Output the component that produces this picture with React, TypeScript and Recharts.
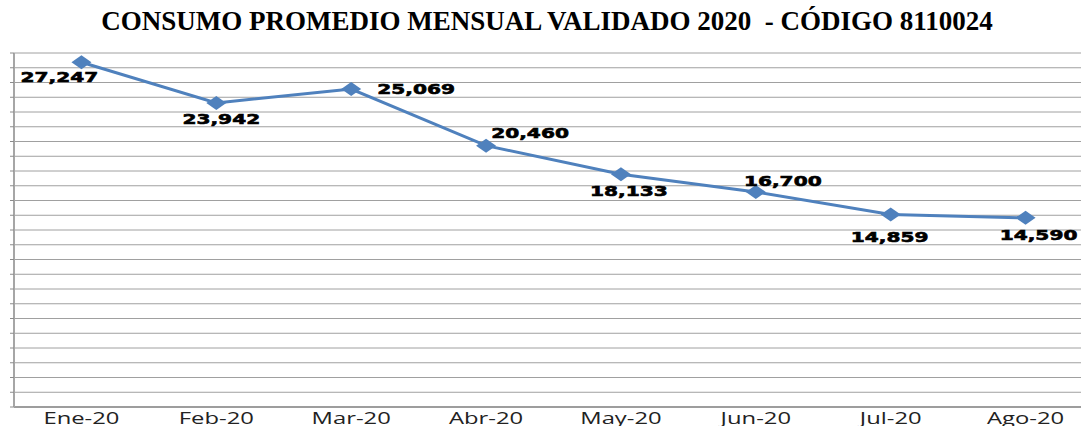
import { LineChart, Line, XAxis, YAxis, CartesianGrid, LabelList } from "recharts";

const months = ["Ene-20", "Feb-20", "Mar-20", "Abr-20", "May-20", "Jun-20", "Jul-20", "Ago-20"];
const consumo = [27247, 23942, 25069, 20460, 18133, 16700, 14859, 14590];
const yTicks = [-800, 0, 400, 1600, 2800, 4000, 5200, 6400, 7600, 8800, 10000, 11200, 12400, 13600, 14800, 16000, 17200, 18400, 19600, 20800, 22000, 23200, 24400, 25600, 26800, 28000];

// where each value label sits relative to its point (dx, dy to baseline)
const labelOffsets = [[-22, 20], [5, 21], [65, 5], [44, -8], [8, 22], [27, -6], [-1, 27], [13, 22]];

const data = months.map((m, i) => ({ mes: m, valor: consumo[i] }));

const BLUE = "#4f81bd";

function Diamond({ cx, cy }: any) {
  if (cx == null || cy == null) return null;
  return <polygon points={`${cx - 10},${cy} ${cx},${cy - 7} ${cx + 10},${cy} ${cx},${cy + 7}`} fill={BLUE} />;
}

function MonthTick({ x, y, payload }: any) {
  return (
    <g transform={`translate(${x},${y})`}>
      <text transform="scale(1.4,1)" textAnchor="middle" dy={17} fontSize={17} fontFamily="'Open Sans', sans-serif" fill="#222">
        {payload.value}
      </text>
    </g>
  );
}

function ValueLabel({ x, y, value, index }: any) {
  const [dx, dy] = labelOffsets[index] || [0, 0];
  return (
    <g transform={`translate(${x + dx},${y + dy})`}>
      <text
        transform="scale(1.44,1)"
        textAnchor="middle"
        fontSize={14}
        fontWeight="bold"
        fontFamily="'DejaVu Sans', sans-serif"
        fill="#000"
        stroke="#000"
        strokeWidth={0.6}
      >
        {Number(value).toLocaleString("en-US")}
      </text>
    </g>
  );
}

export default function App() {
  return (
    <div style={{ position: "absolute", left: 0, top: 0, width: 1081, height: 426, overflow: "hidden", background: "#fff" }}>
      <div
        style={{
          position: "absolute",
          top: 6,
          left: 0,
          width: 1094,
          textAlign: "center",
          fontFamily: "'Liberation Serif', serif",
          fontWeight: "bold",
          fontSize: 27,
          color: "#000",
          whiteSpace: "pre",
        }}
      >
        CONSUMO PROMEDIO MENSUAL VALIDADO 2020  - CÓDIGO 8110024
      </div>
      <LineChart width={1093} height={426} data={data} margin={{ top: 53, right: 0, bottom: 0, left: 0 }}>
        <CartesianGrid vertical={false} stroke="#a0a0a0" strokeWidth={1} />
        <XAxis
          dataKey="mes"
          scale="band"
          height={19}
          tickSize={0}
          tickMargin={0}
          tick={<MonthTick />}
          axisLine={{ stroke: "#8c8c8c", strokeWidth: 1.5 }}
          tickLine={false}
        />
        <YAxis
          type="number"
          domain={[-800, 28000]}
          ticks={yTicks}
          width={14}
          tickSize={4}
          tickFormatter={() => ""}
          axisLine={{ stroke: "#a6a6a6", strokeWidth: 2 }}
          tickLine={{ stroke: "#8c8c8c" }}
        />
        <Line
          dataKey="valor"
          stroke={BLUE}
          strokeWidth={3}
          dot={<Diamond />}
          activeDot={false}
          isAnimationActive={false}
        >
          <LabelList dataKey="valor" content={<ValueLabel />} />
        </Line>
      </LineChart>
    </div>
  );
}
